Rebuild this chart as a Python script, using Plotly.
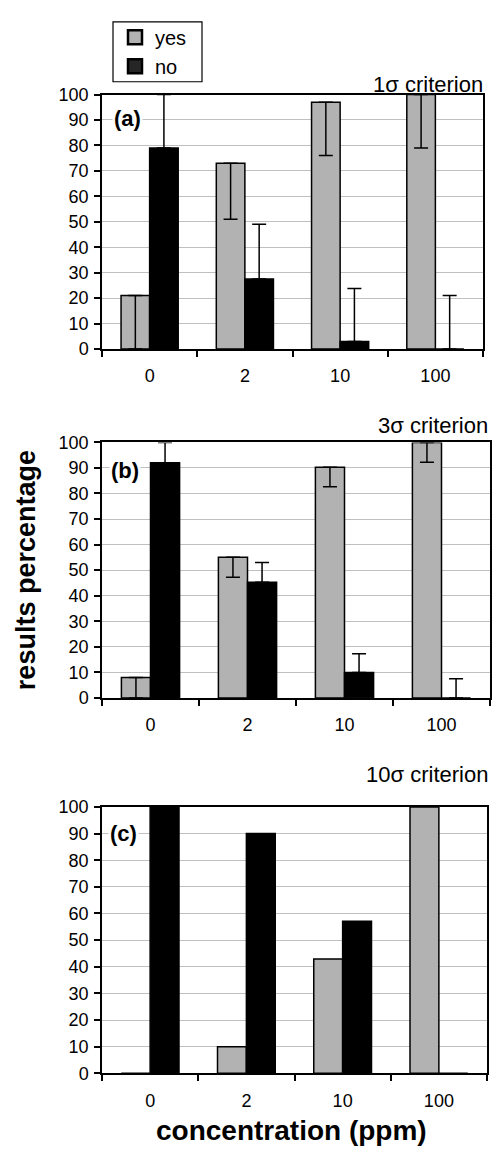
import plotly.graph_objects as go

W, H = 492, 1156

categories = ["0", "2", "10", "100"]

# panel (a) 1 sigma
yes_a = [21, 73, 97, 100]
yes_a_err = [21, 22, 21, 21]
no_a = [79, 27.5, 3, 0]
no_a_err = [21, 21.5, 20.8, 21]

# panel (b) 3 sigma
yes_b = [8, 55, 90.3, 100]
yes_b_err = [8, 7.8, 7.7, 7.8]
no_b = [92, 45.3, 9.9, 0]
no_b_err = [8, 7.7, 7.4, 7.5]

# panel (c) 10 sigma
yes_c = [0, 10, 42.9, 100]
no_c = [100, 90, 57.1, 0]

panel_titles = ["1σ criterion", "3σ criterion", "10σ criterion"]
panel_labels = ["(a)", "(b)", "(c)"]
series_names = ["yes", "no"]
y_ticks = list(range(0, 101, 10))

GRAY = "#b2b2b2"
FONT = "Liberation Sans, Arial, sans-serif"


def px(x):
    return x / W


def py(y):
    return 1 - y / H


fig = go.Figure()

panels = [
    (yes_a, yes_a_err, no_a, no_a_err),
    (yes_b, yes_b_err, no_b, no_b_err),
    (yes_c, None, no_c, None),
]

for i, (ys, yse, ns, nse) in enumerate(panels):
    sfx = "" if i == 0 else str(i + 1)
    yes_kw = {}
    no_kw = {}
    if yse is not None:
        yes_kw["error_y"] = dict(type="data", symmetric=False, array=[0] * len(ys),
                                 arrayminus=yse, color="black", thickness=1.5, width=7)
        no_kw["error_y"] = dict(type="data", symmetric=False, array=nse,
                                arrayminus=[0] * len(ns), color="black", thickness=1.5, width=7)
    fig.add_trace(go.Bar(x=categories, y=ys, name=series_names[0], showlegend=False,
                         marker=dict(color=GRAY, line=dict(color="black", width=1.5)),
                         xaxis="x" + sfx, yaxis="y" + sfx, **yes_kw))
    fig.add_trace(go.Bar(x=categories, y=ns, name=series_names[1], showlegend=False,
                         marker=dict(color="black", line=dict(color="black", width=1.5)),
                         xaxis="x" + sfx, yaxis="y" + sfx, **no_kw))

# legend entries (square swatches like the original legend)
for name, col in zip(series_names, [GRAY, "#262626"]):
    fig.add_trace(go.Scatter(x=[None], y=[None], mode="markers", name=name,
                             showlegend=True,
                             marker=dict(symbol="square", size=14, color=col,
                                         line=dict(color="black", width=2.5)),
                             xaxis="x", yaxis="y"))

ydomains = [(345, 86), (700, 440), (1082, 811)]
xrights = [483, 490, 487]

axis_common = dict(showline=True, linecolor="black", linewidth=1.5, mirror=True,
                   tickfont=dict(family=FONT, size=18, color="black"))

layout = dict(
    width=W, height=H, margin=dict(l=0, r=0, t=0, b=0),
    paper_bgcolor="white", plot_bgcolor="white",
    barmode="group", bargap=0.4, bargroupgap=0,
    font=dict(family=FONT, color="black"),
    legend=dict(x=px(115), y=py(8), xanchor="left", yanchor="top",
                borderwidth=0, bgcolor="rgba(0,0,0,0)",
                font=dict(family=FONT, size=20, color="black"),
                traceorder="normal", tracegroupgap=0, itemwidth=30),
    shapes=[dict(type="rect", xref="paper", yref="paper",
                 x0=px(113), x1=px(202), y0=py(73), y1=py(12),
                 line=dict(color="black", width=1.2), fillcolor="rgba(0,0,0,0)",
                 layer="below")],
)

for i in range(3):
    sfx = "" if i == 0 else str(i + 1)
    yb, yt = ydomains[i]
    layout["xaxis" + sfx] = dict(
        domain=[px(102), px(xrights[i])], type="category",
        categoryorder="array", categoryarray=categories,
        anchor="y" + sfx, ticks="outside", ticklen=6, tickwidth=1.5,
        tickcolor="black", tickson="boundaries", showgrid=False,
        ticklabelstandoff=10, **axis_common)
    layout["yaxis" + sfx] = dict(
        domain=[py(yb), py(yt)], range=[0, 100], tickvals=y_ticks,
        anchor="x" + sfx, ticks="outside", ticklen=6, tickwidth=1.5,
        tickcolor="black", showgrid=True, gridcolor="#c0c0c0", gridwidth=1,
        ticklabelstandoff=2, zeroline=False, **axis_common)

fig.update_layout(**layout)

title_pos = [(485, 76), (490, 423), (490, 778)]
label_pos = [(127, 110), (125, 469), (123, 838)]
for i in range(3):
    fig.add_annotation(text=panel_titles[i], x=px(title_pos[i][0]), y=py(title_pos[i][1]),
                       xref="paper", yref="paper", xanchor="right", yanchor="middle",
                       showarrow=False, font=dict(family=FONT, size=22, color="black"))
    fig.add_annotation(text="<b>" + panel_labels[i] + "</b>", x=px(label_pos[i][0]),
                       y=py(label_pos[i][1]), xref="paper", yref="paper",
                       xanchor="center", yanchor="middle", showarrow=False,
                       bgcolor="white", borderpad=1,
                       font=dict(family=FONT, size=22, color="black"))

fig.add_annotation(text="<b>results percentage</b>", x=px(26), y=py(570),
                   xref="paper", yref="paper", xanchor="center", yanchor="middle",
                   textangle=-90, showarrow=False,
                   font=dict(family=FONT, size=27, color="black"))
fig.add_annotation(text="<b>concentration (ppm)</b>", x=px(291), y=py(1140),
                   xref="paper", yref="paper", xanchor="center", yanchor="middle",
                   showarrow=False, font=dict(family=FONT, size=28, color="black"))

fig.write_html("out.html")
